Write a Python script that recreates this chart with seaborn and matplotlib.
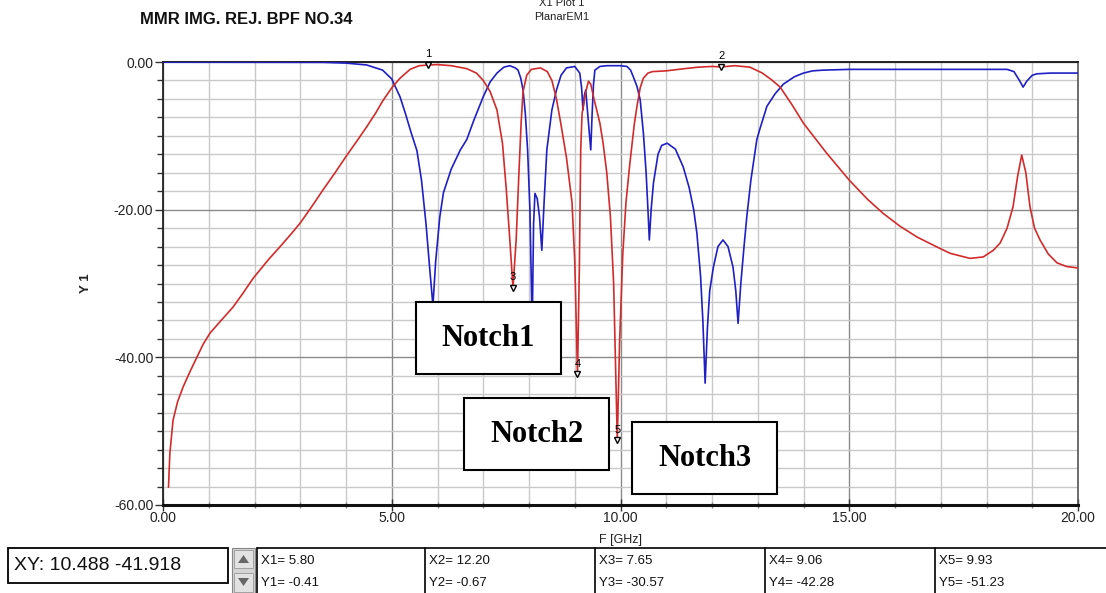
import matplotlib
matplotlib.use("Agg")
import matplotlib.pyplot as plt
from matplotlib.patches import Rectangle, Polygon
from matplotlib.ticker import MultipleLocator, FormatStrFormatter
import seaborn as sns
import pandas as pd

# ---- S21 (transmission) trace, red ----
s21_freq = [0.12, 0.15, 0.22, 0.32, 0.44, 0.60, 0.74, 0.88, 1.03, 1.30, 1.53, 1.75, 1.97, 2.30, 2.56,
            2.80, 3.00, 3.25, 3.50, 3.75, 4.00, 4.25, 4.45, 4.65, 4.80, 5.00, 5.18, 5.40, 5.60, 5.80,
            6.00, 6.30, 6.64, 6.85, 7.00, 7.15, 7.30, 7.42, 7.50, 7.58, 7.65, 7.72, 7.78, 7.83, 7.87,
            7.95, 8.05, 8.25, 8.40, 8.50, 8.60, 8.70, 8.82, 8.94, 9.00, 9.06, 9.10, 9.13, 9.16,
            9.20, 9.25, 9.30, 9.35, 9.42, 9.50, 9.55, 9.62, 9.70, 9.78, 9.85, 9.93, 9.98,
            10.05, 10.12, 10.20, 10.30, 10.36, 10.43, 10.50, 10.60, 10.70, 11.00, 11.40,
            11.70, 12.00, 12.20, 12.50, 12.83, 13.10, 13.30, 13.49, 13.75, 14.00, 14.50,
            15.00, 15.40, 15.74, 16.10, 16.48, 16.90, 17.20, 17.64, 17.93, 18.15, 18.30,
            18.45, 18.58, 18.68, 18.77, 18.86, 18.95, 19.05, 19.17, 19.35, 19.54, 19.75, 20.00]
s21_db = [-57.6, -53.0, -48.5, -46.0, -44.0, -41.8, -40.0, -38.2, -36.7, -34.8, -33.2, -31.3, -29.3, -26.8, -25.0,
          -23.3, -21.8, -19.6, -17.3, -15.1, -12.8, -10.6, -8.8, -6.9, -5.3, -3.5, -2.2, -1.0, -0.5, -0.41,
          -0.35, -0.5, -0.9, -1.5, -2.5, -4.0, -6.5, -11.0, -17.0, -24.0, -30.57, -24.0, -15.0, -8.0, -4.0,
          -1.8, -1.0, -0.8, -1.3, -2.5, -5.0, -8.5, -13.0, -19.0, -27.0, -42.28, -28.0, -12.0, -7.0,
          -5.5, -3.8, -2.6, -3.0, -5.0, -7.0, -8.3, -11.0, -15.0, -21.0, -30.0, -51.23, -38.0,
          -26.0, -19.0, -14.0, -8.5, -6.0, -3.5, -2.2, -1.5, -1.3, -1.2, -0.9,
          -0.7, -0.6, -0.67, -0.5, -0.7, -1.5, -2.4, -3.4, -5.8, -8.3, -12.3,
          -16.0, -18.6, -20.5, -22.2, -23.7, -25.0, -25.9, -26.6, -26.4, -25.5, -24.5,
          -22.5, -19.6, -15.5, -12.6, -15.0, -19.6, -22.5, -24.1, -26.0, -27.2, -27.7, -27.9]

# ---- S11 (reflection) trace, blue ----
s11_freq = [0.00, 3.50, 4.00, 4.45, 4.80, 5.00, 5.18, 5.30, 5.42, 5.55, 5.65, 5.75, 5.83, 5.90,
            5.96, 6.05, 6.13, 6.30, 6.50, 6.64, 6.80, 7.00, 7.15, 7.30, 7.45, 7.58, 7.70, 7.76,
            7.82, 7.87, 7.92, 7.97, 8.02, 8.07, 8.10, 8.13, 8.18, 8.23, 8.28, 8.33, 8.39, 8.50,
            8.60, 8.70, 8.82, 9.00, 9.11, 9.15, 9.18, 9.21, 9.24, 9.27, 9.31, 9.35, 9.38, 9.41,
            9.44, 9.55, 9.70, 10.00, 10.14, 10.22, 10.28, 10.36, 10.43, 10.50, 10.56, 10.60,
            10.63, 10.67, 10.72, 10.82, 10.90, 11.02, 11.20, 11.37, 11.50, 11.60, 11.67, 11.75,
            11.80, 11.85, 11.90, 11.95, 12.03, 12.13, 12.24, 12.35, 12.46, 12.52, 12.57, 12.63,
            12.70, 12.76, 12.85, 12.98, 13.05, 13.20, 13.38, 13.56, 13.80, 14.00, 14.20, 14.43,
            15.00, 17.00, 18.45, 18.60, 18.72, 18.80, 18.88, 19.00, 19.10, 19.40, 20.00]
s11_db = [-0.02, -0.05, -0.15, -0.4, -1.1, -2.3, -4.7, -7.0, -9.5, -12.0, -16.0, -22.0, -28.0, -33.0,
          -27.0, -21.0, -17.7, -14.5, -11.9, -10.5, -7.8, -4.7, -2.7, -1.5, -0.7, -0.5, -0.8, -1.1,
          -2.2, -3.8, -7.0, -12.0, -20.0, -36.0, -22.0, -17.8, -18.5, -21.0, -25.5, -19.0, -11.9, -6.5,
          -3.8, -1.8, -0.8, -0.6, -1.5, -3.5, -6.5, -4.5, -3.8, -6.0, -9.0, -11.9, -7.0, -3.0,
          -1.1, -0.6, -0.5, -0.5, -0.6, -1.1, -2.0, -3.3, -5.1, -9.6, -15.0, -20.0,
          -24.1, -20.0, -16.4, -12.5, -11.3, -11.0, -11.8, -14.2, -17.0, -20.0, -23.2, -29.0,
          -35.0, -43.5, -36.0, -31.0, -27.8, -25.0, -24.1, -25.0, -27.8, -31.0, -35.4, -30.0,
          -25.0, -21.0, -16.0, -10.5, -9.0, -6.0, -4.3, -3.0, -2.0, -1.5, -1.2, -1.1,
          -1.0, -1.0, -1.0, -1.3, -2.5, -3.4, -2.6, -1.8, -1.6, -1.5, -1.5]

# ---- markers ----
marker_ids = ["1", "2", "3", "4", "5"]
marker_freq = [5.80, 12.20, 7.65, 9.06, 9.93]
marker_db = [-0.41, -0.67, -30.57, -42.28, -51.23]

notch_labels = ["Notch1", "Notch2", "Notch3"]

RED = "#d22b2b"
BLUE = "#1f1fc4"

sns.set_style("white")
plt.rcParams["font.family"] = ["Liberation Sans", "DejaVu Sans"]
plt.rcParams["axes.unicode_minus"] = False

W, H = 1106, 593
fig = plt.figure(figsize=(W / 100, H / 100), dpi=100)


def fx(px):
    return px / W


def fy(py):
    return 1 - py / H


ax = fig.add_axes([fx(163), fy(505), fx(1078) - fx(163), fy(62) - fy(505)])

df21 = pd.DataFrame({"F": s21_freq, "dB": s21_db})
df11 = pd.DataFrame({"F": s11_freq, "dB": s11_db})
sns.lineplot(data=df11, x="F", y="dB", ax=ax, color=BLUE, lw=1.2, zorder=3)
sns.lineplot(data=df21, x="F", y="dB", ax=ax, color=RED, lw=1.2, zorder=3)

ax.set_xlim(0, 20)
ax.set_ylim(-60, 0)
ax.xaxis.set_major_locator(MultipleLocator(5))
ax.xaxis.set_minor_locator(MultipleLocator(1))
ax.yaxis.set_major_locator(MultipleLocator(20))
ax.yaxis.set_minor_locator(MultipleLocator(2.5))
ax.xaxis.set_major_formatter(FormatStrFormatter("%.2f"))
ax.yaxis.set_major_formatter(FormatStrFormatter("%.2f"))

ax.grid(which="minor", color="#c9c9c9", lw=1.0, zorder=0)
ax.grid(which="major", color="#8a8a8a", lw=1.0, zorder=0)
ax.set_axisbelow(True)

ax.tick_params(axis="y", which="major", direction="out", length=6, width=1, color="#333333",
               labelsize=10, labelcolor="#222222", pad=1, left=True)
ax.tick_params(axis="y", which="minor", direction="out", length=4, width=1, color="#333333", left=True)
ax.tick_params(axis="x", which="major", direction="inout", length=8, width=1, color="#333333",
               labelsize=10, labelcolor="#222222", pad=0, bottom=True)
ax.tick_params(axis="x", which="minor", direction="inout", length=4, width=1, color="#888888", bottom=True)

for side, lw, col in [("left", 1.3, "#222222"), ("bottom", 2.2, "#111111"),
                      ("top", 1.4, "#222222"), ("right", 1.2, "#555555")]:
    ax.spines[side].set_visible(True)
    ax.spines[side].set_linewidth(lw)
    ax.spines[side].set_color(col)

ax.set_xlabel("F [GHz]", fontsize=9, labelpad=7, color="#222222")
ax.set_ylabel("Y 1", fontsize=9.5, fontweight="bold", labelpad=16, color="#222222")

# marker glyphs and numbers
for mid, mf, mdb in zip(marker_ids, marker_freq, marker_db):
    ax.plot([mf], [mdb], marker="v", ms=4, mfc="white", mec="black", mew=1.0, zorder=5, clip_on=False)
    ax.annotate(mid, (mf, mdb), xytext=(0, 4), textcoords="offset points", ha="center",
                va="bottom", fontsize=8, color="black", zorder=6, annotation_clip=False)

# notch annotation boxes
box_px = [(416, 302, 561, 374), (464, 398, 609, 470), (632, 422, 777, 494)]
for label, (x0, y0, x1, y1) in zip(notch_labels, box_px):
    fig.patches.append(Rectangle((fx(x0), fy(y1)), fx(x1) - fx(x0), fy(y0) - fy(y1),
                                 transform=fig.transFigure, facecolor="white",
                                 edgecolor="black", lw=1.5, zorder=10))
    fig.text(fx((x0 + x1) / 2), fy((y0 + y1) / 2), label, ha="center", va="center",
             fontsize=22, fontweight="bold", family="Liberation Serif", color="black", zorder=11)

# header texts
fig.text(fx(140), fy(20), "MMR IMG. REJ. BPF NO.34", fontsize=12, fontweight="bold",
         ha="left", va="center", color="#111111")
fig.text(fx(562), fy(3), "X1 Plot 1", fontsize=8, ha="center", va="center", color="#222222")
fig.text(fx(562), fy(17), "PlanarEM1", fontsize=8, ha="center", va="center", color="#222222")

# readout panel along the bottom
fig.patches.append(Rectangle((fx(8), fy(583)), fx(228) - fx(8), fy(548) - fy(583),
                             transform=fig.transFigure, facecolor="white", edgecolor="black", lw=1.3))
fig.text(fx(14), fy(566), "XY: 10.488 -41.918", fontsize=14, ha="left", va="center", color="#111111")

fig.patches.append(Rectangle((fx(232), fy(593)), fx(255) - fx(232), fy(548) - fy(593),
                             transform=fig.transFigure, facecolor="#d4d4d4", edgecolor="#888888", lw=0.8))
fig.patches.append(Rectangle((fx(234), fy(568)), fx(253) - fx(234), fy(550) - fy(568),
                             transform=fig.transFigure, facecolor="#e2e2e2", edgecolor="#999999", lw=0.6))
fig.patches.append(Rectangle((fx(234), fy(592)), fx(253) - fx(234), fy(573) - fy(592),
                             transform=fig.transFigure, facecolor="#e2e2e2", edgecolor="#999999", lw=0.6))
fig.patches.append(Polygon([(fx(238), fy(563)), (fx(249), fy(563)), (fx(243.5), fy(555))],
                           closed=True, transform=fig.transFigure, facecolor="#666666", edgecolor="none"))
fig.patches.append(Polygon([(fx(238), fy(578)), (fx(249), fy(578)), (fx(243.5), fy(586))],
                           closed=True, transform=fig.transFigure, facecolor="#666666", edgecolor="none"))

col_edges = [257, 425, 595, 765, 935]
fig.lines.append(plt.Line2D([fx(257), fx(1106)], [fy(548), fy(548)], transform=fig.transFigure,
                            color="black", lw=1.2))
for cx, mid, mf, mdb in zip(col_edges, marker_ids, marker_freq, marker_db):
    fig.lines.append(plt.Line2D([fx(cx), fx(cx)], [fy(548), fy(593)], transform=fig.transFigure,
                                color="black", lw=1.2))
    fig.text(fx(cx + 4), fy(561), f"X{mid}= {mf:.2f}", fontsize=9.5, ha="left", va="center", color="#111111")
    fig.text(fx(cx + 4), fy(583), f"Y{mid}= {mdb:.2f}", fontsize=9.5, ha="left", va="center", color="#111111")

fig.savefig("out.png", dpi=100)
